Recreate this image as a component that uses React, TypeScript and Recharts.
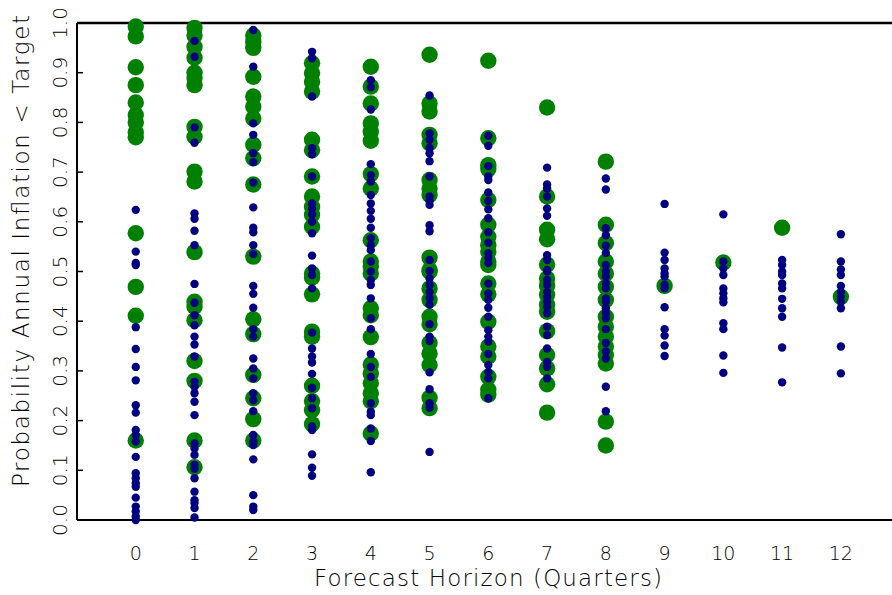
import React from 'react';
import { ScatterChart, Scatter, XAxis, YAxis, ReferenceLine } from 'recharts';

// forecast horizons (quarters)
const horizons = [0, 1, 2, 3, 4, 5, 6, 7, 8, 9, 10, 11, 12];
const xTicks = [0, 1, 2, 3, 4, 5, 6, 7, 8, 9, 10, 11, 12];
const yTicks = [0, 0.1, 0.2, 0.3, 0.4, 0.5, 0.6, 0.7, 0.8, 0.9, 1.0];

// large green markers, one list per horizon
const greenValues: number[][] = [
  [0.993, 0.973, 0.911, 0.875, 0.84, 0.815, 0.8, 0.78, 0.77, 0.577, 0.469, 0.411, 0.16],
  [0.99, 0.975, 0.952, 0.93, 0.9, 0.89, 0.875, 0.791, 0.771, 0.701, 0.681, 0.539, 0.439, 0.429, 0.402, 0.32, 0.28, 0.16, 0.106],
  [0.975, 0.962, 0.95, 0.892, 0.852, 0.832, 0.808, 0.755, 0.728, 0.675, 0.53, 0.404, 0.374, 0.292, 0.245, 0.203, 0.16],
  [0.919, 0.899, 0.882, 0.862, 0.765, 0.744, 0.691, 0.651, 0.63, 0.614, 0.59, 0.496, 0.488, 0.454, 0.379, 0.369, 0.27, 0.239, 0.221, 0.193],
  [0.912, 0.872, 0.838, 0.798, 0.781, 0.763, 0.696, 0.667, 0.563, 0.52, 0.51, 0.496, 0.426, 0.412, 0.368, 0.313, 0.295, 0.275, 0.255, 0.239, 0.174],
  [0.936, 0.838, 0.822, 0.775, 0.758, 0.684, 0.667, 0.654, 0.528, 0.503, 0.5, 0.466, 0.443, 0.409, 0.394, 0.356, 0.335, 0.312, 0.246, 0.225],
  [0.924, 0.768, 0.714, 0.706, 0.644, 0.594, 0.57, 0.553, 0.54, 0.52, 0.513, 0.476, 0.454, 0.399, 0.349, 0.329, 0.288, 0.262, 0.252],
  [0.83, 0.651, 0.584, 0.565, 0.514, 0.486, 0.471, 0.453, 0.433, 0.419, 0.38, 0.332, 0.305, 0.273, 0.216],
  [0.721, 0.594, 0.557, 0.52, 0.496, 0.469, 0.443, 0.409, 0.389, 0.369, 0.349, 0.332, 0.315, 0.198, 0.15],
  [0.471],
  [0.518],
  [0.588],
  [0.449],
];

// small blue markers, one list per horizon
const blueValues: number[][] = [
  [0.624, 0.54, 0.517, 0.513, 0.388, 0.344, 0.308, 0.281, 0.231, 0.216, 0.181, 0.171, 0.158, 0.127, 0.094, 0.084, 0.074, 0.067, 0.045, 0.027, 0.017, 0.007, 0.0],
  [0.964, 0.932, 0.79, 0.759, 0.617, 0.606, 0.582, 0.553, 0.475, 0.437, 0.412, 0.392, 0.369, 0.353, 0.329, 0.278, 0.268, 0.255, 0.238, 0.211, 0.154, 0.144, 0.131, 0.111, 0.103, 0.084, 0.057, 0.04, 0.034, 0.024, 0.005],
  [0.986, 0.912, 0.798, 0.775, 0.738, 0.72, 0.679, 0.629, 0.588, 0.579, 0.553, 0.535, 0.471, 0.455, 0.427, 0.384, 0.369, 0.325, 0.305, 0.285, 0.255, 0.241, 0.219, 0.171, 0.158, 0.151, 0.122, 0.05, 0.027, 0.02],
  [0.942, 0.929, 0.852, 0.748, 0.736, 0.691, 0.637, 0.627, 0.615, 0.6, 0.577, 0.532, 0.506, 0.493, 0.466, 0.377, 0.345, 0.329, 0.317, 0.294, 0.266, 0.245, 0.225, 0.188, 0.181, 0.132, 0.105, 0.089],
  [0.885, 0.871, 0.826, 0.716, 0.694, 0.681, 0.654, 0.637, 0.622, 0.606, 0.588, 0.567, 0.553, 0.543, 0.52, 0.5, 0.483, 0.473, 0.446, 0.406, 0.384, 0.334, 0.308, 0.288, 0.235, 0.218, 0.211, 0.184, 0.159, 0.096],
  [0.854, 0.778, 0.765, 0.749, 0.738, 0.722, 0.691, 0.651, 0.642, 0.634, 0.593, 0.581, 0.523, 0.501, 0.486, 0.473, 0.459, 0.446, 0.433, 0.394, 0.369, 0.36, 0.297, 0.263, 0.235, 0.226, 0.137],
  [0.773, 0.753, 0.712, 0.691, 0.684, 0.659, 0.642, 0.625, 0.607, 0.579, 0.558, 0.537, 0.527, 0.517, 0.476, 0.456, 0.443, 0.427, 0.409, 0.382, 0.369, 0.359, 0.334, 0.312, 0.298, 0.285, 0.245],
  [0.709, 0.675, 0.667, 0.651, 0.627, 0.612, 0.533, 0.523, 0.503, 0.5, 0.483, 0.473, 0.459, 0.449, 0.439, 0.429, 0.416, 0.389, 0.372, 0.345, 0.318, 0.308, 0.285],
  [0.687, 0.665, 0.587, 0.573, 0.552, 0.537, 0.513, 0.5, 0.49, 0.476, 0.466, 0.446, 0.439, 0.426, 0.416, 0.406, 0.384, 0.356, 0.339, 0.325, 0.268, 0.219],
  [0.636, 0.538, 0.523, 0.506, 0.496, 0.49, 0.473, 0.466, 0.428, 0.384, 0.371, 0.351, 0.33],
  [0.615, 0.52, 0.506, 0.493, 0.466, 0.456, 0.446, 0.438, 0.396, 0.384, 0.331, 0.296],
  [0.523, 0.513, 0.5, 0.493, 0.476, 0.466, 0.445, 0.426, 0.409, 0.347, 0.277],
  [0.575, 0.52, 0.504, 0.493, 0.471, 0.459, 0.449, 0.439, 0.426, 0.349, 0.295],
];

const greenData = horizons.flatMap((h, i) => greenValues[i].map((p) => ({ h, p })));
const blueData = horizons.flatMap((h, i) => blueValues[i].map((p) => ({ h, p })));

const FONT = '"DejaVu Sans", sans-serif';

const YTick = (props: any) => {
  const { x, y, payload } = props;
  const tx = x - 17;
  return (
    <g>
      <line x1={x} y1={y} x2={x + 6} y2={y} stroke="#000" strokeWidth={1.5} />
      <text
        x={tx}
        y={y}
        transform={`rotate(-90 ${tx} ${y})`}
        textAnchor="middle"
        dominantBaseline="central"
        fontFamily={FONT}
        fontWeight={200}
        fontSize={20}
        fill="#000"
      >
        {Number(payload.value).toFixed(1)}
      </text>
    </g>
  );
};

const XTick = (props: any) => {
  const { x, y, payload } = props;
  return (
    <text
      x={x}
      y={y + 33}
      textAnchor="middle"
      dominantBaseline="central"
      fontFamily={FONT}
      fontWeight={200}
      fontSize={19}
      fill="#000"
    >
      {payload.value}
    </text>
  );
};

const bigDot = (props: any) => <circle cx={props.cx} cy={props.cy} r={8.2} fill="#008000" />;
const smallDot = (props: any) => <circle cx={props.cx} cy={props.cy} r={4.2} fill="#000080" />;

export default function App() {
  return (
    <div style={{ position: 'absolute', left: 0, top: 0, background: '#fff' }}>
      <ScatterChart width={892} height={595} margin={{ top: 23, right: 0, bottom: 0, left: 0 }}>
        <XAxis
          type="number"
          dataKey="h"
          domain={[-1, 12.87]}
          ticks={xTicks}
          allowDataOverflow
          height={75}
          tickLine={false}
          tickSize={0}
          tickMargin={0}
          axisLine={{ stroke: '#000', strokeWidth: 2 }}
          tick={<XTick />}
          interval={0}
          label={() => (
            <text
              x={488}
              y={578}
              textAnchor="middle"
              dominantBaseline="central"
              fontFamily={FONT}
              fontWeight={200}
              fontSize={23}
              textLength={348}
              lengthAdjust="spacing"
              fill="#000"
            >
              Forecast Horizon (Quarters)
            </text>
          )}
        />
        <YAxis
          type="number"
          dataKey="p"
          domain={[0, 1]}
          ticks={yTicks}
          width={77}
          tickLine={false}
          tickSize={0}
          tickMargin={0}
          axisLine={{ stroke: '#000', strokeWidth: 2 }}
          tick={<YTick />}
          interval={0}
          label={() => (
            <text
              x={21}
              y={251}
              transform="rotate(-90 21 251)"
              textAnchor="middle"
              dominantBaseline="central"
              fontFamily={FONT}
              fontWeight={200}
              fontSize={23}
              textLength={472}
              lengthAdjust="spacing"
              fill="#000"
            >
              Probability Annual Inflation &lt; Target
            </text>
          )}
        />
        <ReferenceLine y={1} stroke="#000" strokeWidth={2.5} />
        <Scatter data={greenData} shape={bigDot} isAnimationActive={false} />
        <Scatter data={blueData} shape={smallDot} isAnimationActive={false} />
      </ScatterChart>
    </div>
  );
}
